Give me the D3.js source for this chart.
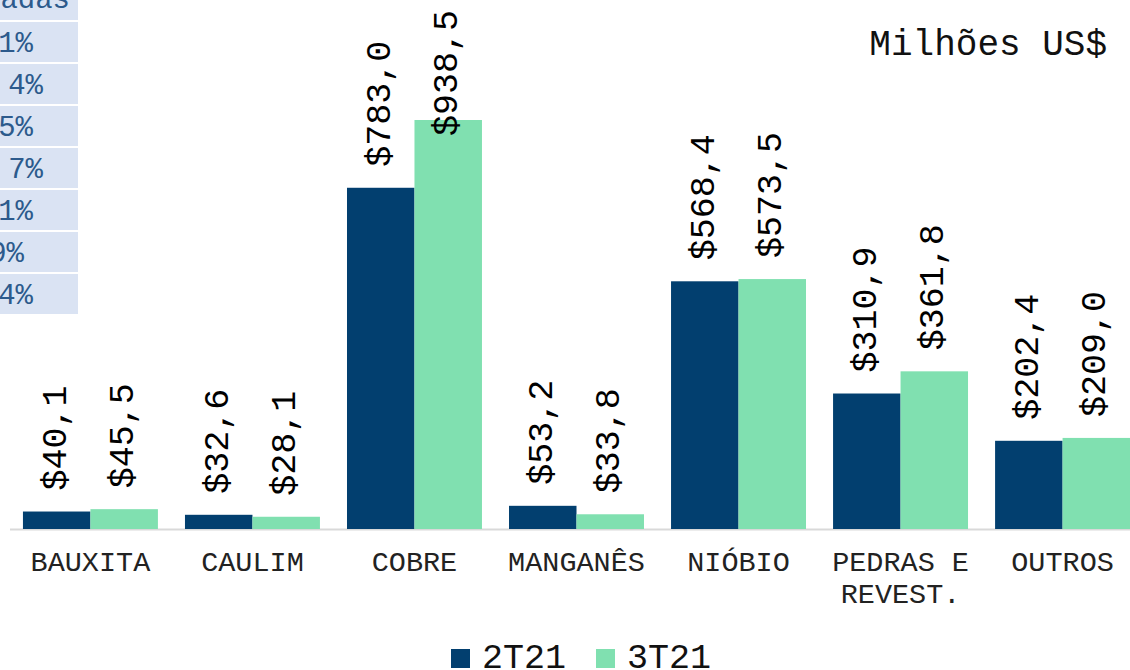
<!DOCTYPE html>
<html>
<head>
<meta charset="utf-8">
<script src="https://cdn.jsdelivr.net/npm/d3@7"></script>
<style>
  body { margin: 0; background: #fff; }
  text { font-family: "Liberation Mono", "Courier New", monospace; }
</style>
</head>
<body>
<div id="chart"></div>
<script>
let categories = [['BAUXITA'], ['CAULIM'], ['COBRE'], ['MANGANÊS'], ['NIÓBIO'], ['PEDRAS E', 'REVEST.'], ['OUTROS']]
let series = ['2T21', '3T21']
let vals2T21 = [40.1, 32.6, 783.0, 53.2, 568.4, 310.9, 202.4]
let vals3T21 = [45.5, 28.1, 938.5, 33.8, 573.5, 361.8, 209.0]
let colors = ['#023f6f', '#80e0b0']
// pedaço da tabela cortada no canto
let tableTexts = ['adas', '1%', '4%', '5%', '7%', '1%', '9%', '4%']
let tableEnds = [70, 33, 43, 33, 43, 33, 24, 33]

let W = 1130, H = 670
let svg = d3.select('#chart').append('svg').attr('width', W).attr('height', H)

let rows = categories.map(function(c, i){
	return {cat: c, key: c.join(' '), v: [vals2T21[i], vals3T21[i]]}
})

let x0 = d3.scaleBand().domain(rows.map(d => d.key)).range([9.5, 1143.5]).paddingInner(0.167).paddingOuter(0.083)
let x1 = d3.scaleBand().domain(series).range([0, x0.bandwidth()])
let y = d3.scaleLinear().domain([0, 1000]).range([529, 93.2])

// tabela
let tg = svg.append('g')
tg.selectAll('rect').data(tableTexts).enter().append('rect')
	.attr('x', 0).attr('width', 78)
	.attr('y', (d, i) => -20 + 42 * i).attr('height', 40)
	.attr('fill', '#dae3f3')
tg.selectAll('text').data(tableTexts).enter().append('text')
	.attr('x', (d, i) => tableEnds[i])
	.attr('y', (d, i) => i == 0 ? 8 : 10 + 42 * i)
	.attr('text-anchor', 'end')
	.attr('font-size', 29)
	.attr('fill', '#2c5a8c')
	.text(d => d)

// eixo
svg.append('line')
	.attr('x1', 10).attr('x2', 1130).attr('y1', 529.5).attr('y2', 529.5)
	.attr('stroke', '#d9d9d9').attr('stroke-width', 2)

let groups = svg.selectAll('.cat').data(rows).enter().append('g')
	.attr('class', 'cat')
	.attr('transform', d => 'translate(' + x0(d.key) + ',0)')

groups.selectAll('rect').data(d => d.v.map((v, j) => ({s: series[j], v: v, j: j}))).enter()
	.append('rect')
	.attr('x', d => x1(d.s))
	.attr('width', x1.bandwidth())
	.attr('y', d => y(d.v))
	.attr('height', d => y(0) - y(d.v))
	.attr('fill', d => colors[d.j])

groups.selectAll('.lbl').data(d => d.v.map((v, j) => ({s: series[j], v: v, j: j}))).enter()
	.append('text')
	.attr('class', 'lbl')
	.attr('font-size', 35)
	.attr('fill', '#000')
	.attr('dominant-baseline', 'central')
	.text(d => '$' + d3.format('.1f')(d.v).replace('.', ','))
	.each(function(d){
		let len = this.getComputedTextLength()
		let start = Math.max(y(d.v) - 21, 10 + len)
		let cx = x1(d.s) + x1.bandwidth() / 2
		d3.select(this).attr('transform', 'translate(' + cx + ',' + start + ') rotate(-90)')
	})

groups.each(function(d){
	let t = d3.select(this).append('text')
		.attr('x', x0.bandwidth() / 2)
		.attr('text-anchor', 'middle')
		.attr('font-size', 28.5)
		.attr('fill', '#222')
	d.cat.forEach(function(line, k){
		t.append('tspan').attr('x', x0.bandwidth() / 2).attr('y', 571 + 32 * k).text(line)
	})
})

svg.append('text')
	.attr('x', 1107).attr('y', 55)
	.attr('text-anchor', 'end')
	.attr('font-size', 36)
	.attr('fill', '#111')
	.text('Milhões US$')

// legenda
let lg = svg.append('g')
let legX = [451, 596]
series.forEach(function(s, i){
	lg.append('rect').attr('x', legX[i]).attr('y', 649).attr('width', 19).attr('height', 19).attr('fill', colors[i])
	lg.append('text').attr('x', legX[i] + 31).attr('y', 668).attr('font-size', 35).attr('fill', '#111').text(s)
})
</script>
</body>
</html>
